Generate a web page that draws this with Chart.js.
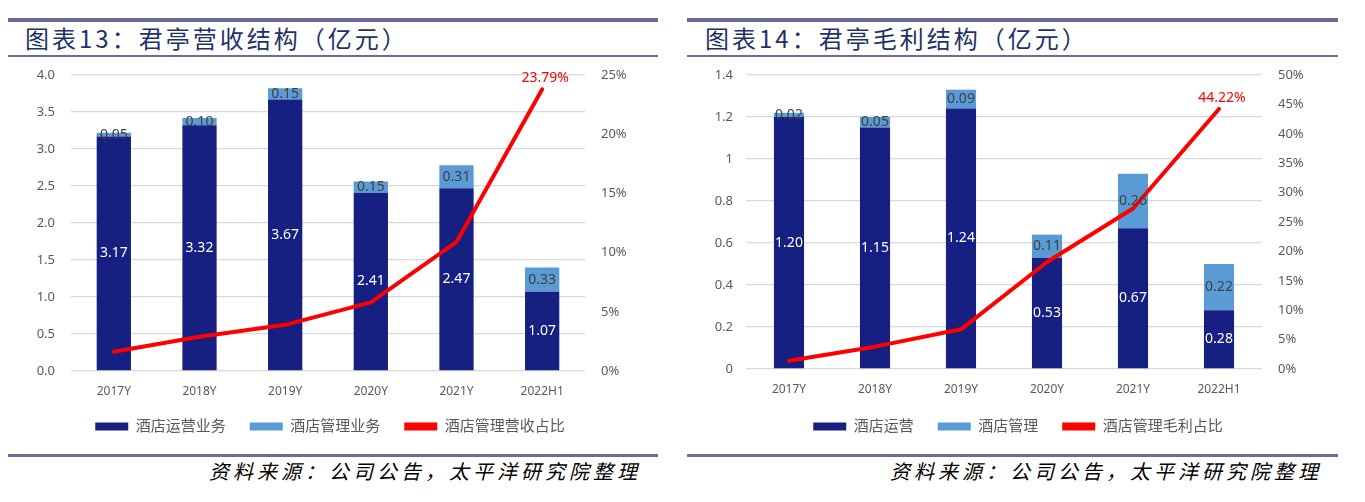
<!DOCTYPE html>
<html>
<head>
<meta charset="utf-8">
<script src="https://cdn.jsdelivr.net/npm/chart.js@4/dist/chart.umd.min.js"></script>
<style>
  html, body { margin:0; padding:0; background:#fff; }
  body { width:1365px; height:502px; position:relative; overflow:hidden; }
  .rule { position:absolute; background:#6B6A9B; }
  .title { position:absolute; font-family:"Noto Sans CJK SC", sans-serif; font-size:24px; letter-spacing:3px; color:#1C3268; line-height:1; white-space:nowrap; }
  .src { position:absolute; font-family:"Noto Sans CJK SC", sans-serif; font-style:italic; font-size:20px; letter-spacing:4px; color:#000; line-height:1; white-space:nowrap; text-align:right; }
  .cv { position:absolute; }
</style>
</head>
<body>
<!-- left panel decorations -->
<div class="rule" style="left:8px; top:18px; width:650px; height:4px;"></div>
<div class="title" style="left:25px; top:26px;">图表13：君亭营收结构（亿元）</div>
<div class="rule" style="left:8px; top:55px; width:650px; height:2px;"></div>
<div class="rule" style="left:8px; top:454px; width:650px; height:3px;"></div>
<div class="src" style="right:724px; top:461px;">资料来源：公司公告，太平洋研究院整理</div>

<!-- right panel decorations -->
<div class="rule" style="left:687px; top:18px; width:651px; height:4px;"></div>
<div class="title" style="left:705px; top:26px;">图表14：君亭毛利结构（亿元）</div>
<div class="rule" style="left:687px; top:55px; width:651px; height:2px;"></div>
<div class="rule" style="left:687px; top:454px; width:651px; height:3px;"></div>
<div class="src" style="right:43px; top:461px;">资料来源：公司公告，太平洋研究院整理</div>

<div class="cv" style="left:0px; top:60px; width:660px; height:384px;"><canvas id="c1"></canvas></div>
<div class="cv" style="left:683px; top:60px; width:670px; height:384px;"><canvas id="c2"></canvas></div>

<script>
// ---------- data ----------
const categories = ['2017Y', '2018Y', '2019Y', '2020Y', '2021Y', '2022H1'];

// Chart 13: revenue structure
const revOperation = [3.17, 3.32, 3.67, 2.41, 2.47, 1.07];
const revManagement = [0.05, 0.10, 0.15, 0.15, 0.31, 0.33];
const revMgmtShare = [1.63, 2.9, 3.9, 5.8, 10.9, 23.79];
const revLeftTicks = { min: 0, max: 4, step: 0.5 };
const revRightTicks = { min: 0, max: 25, step: 5 };
const revLabels = ['酒店运营业务', '酒店管理业务', '酒店管理营收占比'];

// Chart 14: gross profit structure
const gpOperation = [1.20, 1.15, 1.24, 0.53, 0.67, 0.28];
const gpManagement = [0.02, 0.05, 0.09, 0.11, 0.26, 0.22];
const gpMgmtShare = [1.4, 3.8, 6.75, 18.2, 27.3, 44.22];
const gpLeftTicks = { min: 0, max: 1.4, step: 0.2 };
const gpRightTicks = { min: 0, max: 50, step: 5 };
const gpLabels = ['酒店运营', '酒店管理', '酒店管理毛利占比'];

// ---------- styling ----------
const DARK = '#161F82';
const LIGHT = '#5B9BD5';
const RED = '#FF0000';
const TICK = '#595959';
const GRID = '#D9D9D9';
const FONT = '"Noto Sans", "Noto Sans CJK SC", sans-serif';

const labelPlugin = {
  id: 'valueLabels',
  afterDatasetsDraw(chart) {
    const ctx = chart.ctx;
    ctx.save();
    chart.data.datasets.forEach((ds, di) => {
      const meta = chart.getDatasetMeta(di);
      if (meta.hidden) return;
      if (ds.type === 'line') {
        const n = ds.data.length - 1;
        const pt = meta.data[n];
        ctx.font = '14px ' + FONT;
        ctx.fillStyle = RED;
        ctx.textAlign = 'center';
        ctx.textBaseline = 'middle';
        ctx.fillText(ds.data[n].toFixed(2) + '%', pt.x + 3, pt.y - 11);
      } else {
        meta.data.forEach((bar, i) => {
          const v = ds.data[i];
          const cy = (bar.y + bar.base) / 2;
          ctx.font = '14px ' + FONT;
          ctx.fillStyle = ds.labelColor;
          ctx.textAlign = 'center';
          ctx.textBaseline = 'middle';
          ctx.fillText(v.toFixed(2), bar.x, cy);
        });
      }
    });
    ctx.restore();
  }
};

function fmtNum(decimals) {
  return (v) => decimals === null ? String(Number(v.toFixed(1))) : v.toFixed(decimals);
}

function makeChart(id, ops, mgmt, share, leftT, rightT, names, cfg) {
  const ctx = document.getElementById(id);
  return new Chart(ctx, {
    data: {
      labels: categories,
      datasets: [
        { type: 'line', label: names[2], data: share, yAxisID: 'y1', borderColor: RED, backgroundColor: RED,
          borderWidth: 4, pointRadius: 0, tension: 0, order: 0, borderCapStyle: 'round', borderJoinStyle: 'round' },
        { type: 'bar', label: names[0], data: ops, yAxisID: 'y', backgroundColor: DARK, labelColor: '#FFFFFF',
          barPercentage: cfg.barPct, categoryPercentage: 1, stack: 's', order: 1 },
        { type: 'bar', label: names[1], data: mgmt, yAxisID: 'y', backgroundColor: LIGHT, labelColor: '#404040',
          barPercentage: cfg.barPct, categoryPercentage: 1, stack: 's', order: 1 }
      ]
    },
    options: {
      responsive: true,
      maintainAspectRatio: false,
      animation: false,
      layout: { padding: { top: 15, left: 0, right: 0, bottom: 0 } },
      plugins: {
        tooltip: { enabled: false },
        legend: {
          position: 'bottom',
          labels: {
            boxWidth: 33,
            boxHeight: 8,
            padding: 24,
            color: TICK,
            font: { size: 15, family: FONT },
            generateLabels(chart) {
              const items = Chart.defaults.plugins.legend.labels.generateLabels(chart);
              items.forEach(it => { it.lineWidth = 0; });
              const order = [1, 2, 0];
              return order.map(i => items.find(it => it.datasetIndex === i));
            }
          }
        }
      },
      scales: {
        x: {
          stacked: true,
          grid: { display: false, drawTicks: false },
          border: { display: false },
          ticks: { color: TICK, font: { size: 12, family: FONT }, padding: 13, maxRotation: 0 },
          afterFit(s) { s.height = cfg.xH; }
        },
        y: {
          stacked: true,
          position: 'left',
          min: leftT.min, max: leftT.max,
          grid: { color: GRID, lineWidth: 1.3, drawTicks: false },
          border: { display: false },
          ticks: { stepSize: leftT.step, color: TICK, font: { size: 13, family: FONT }, padding: cfg.yPad,
                   callback: fmtNum(cfg.leftDec) },
          afterFit(s) { s.width = cfg.yW; s.paddingTop = 8; s.paddingBottom = 8; }
        },
        y1: {
          position: 'right',
          min: rightT.min, max: rightT.max,
          grid: { display: false, drawTicks: false },
          border: { display: false },
          ticks: { stepSize: rightT.step, color: TICK, font: { size: 13, family: FONT }, padding: 16,
                   callback: (v) => v + '%' },
          afterFit(s) { s.width = cfg.y1W; s.paddingTop = 8; s.paddingBottom = 8; }
        }
      }
    },
    plugins: [labelPlugin]
  });
}

makeChart('c1', revOperation, revManagement, revMgmtShare, revLeftTicks, revRightTicks, revLabels,
  { barPct: 0.4, xH: 24, yW: 71, y1W: 75, yPad: 16, leftDec: 1 });
makeChart('c2', gpOperation, gpManagement, gpMgmtShare, gpLeftTicks, gpRightTicks, gpLabels,
  { barPct: 0.35, xH: 26, yW: 63, y1W: 91, yPad: 13, leftDec: null });
</script>
</body>
</html>
